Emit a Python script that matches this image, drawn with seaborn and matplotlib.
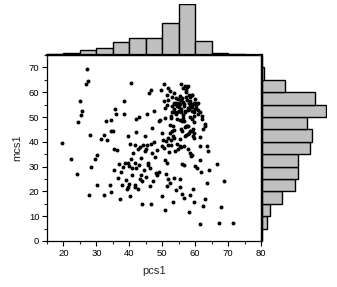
import matplotlib
matplotlib.use('Agg')
import matplotlib.pyplot as plt
import seaborn as sns
import pandas as pd
from matplotlib.ticker import MultipleLocator

# ---- data ----
pcs1 = [
    27.1, 27.4, 26.7, 24.9, 25.5, 25.4, 24.5, 19.6, 22.3, 24.1, 28.5, 28.2, 27.8, 30.2, 29.6, 30.2,
    31.3, 32.2, 33.3, 33.0, 34.5, 35.0, 35.5, 35.9, 34.4, 35.4, 36.3, 32.2, 34.0, 34.4, 37.3, 35.2,
    36.9, 36.6, 37.4, 38.1, 38.6, 38.3, 38.5, 39.5, 40.5, 40.1, 40.4, 39.9, 40.8, 39.5, 41.7, 42.0,
    40.7, 42.1, 42.9, 41.9, 41.8, 42.6, 44.3, 44.7, 45.3, 45.2, 44.7, 45.4, 45.9, 46.5, 47.5, 47.5,
    48.9, 47.0, 46.5, 45.7, 46.2, 45.8, 48.2, 47.2, 43.6, 45.0, 43.2, 38.9, 39.9, 39.5, 39.3, 41.6,
    41.8, 42.6, 40.2, 37.9, 44.0, 46.6, 49.9, 50.7, 51.5, 51.7, 51.5, 53.3, 53.5, 55.4, 55.5, 56.5,
    58.2, 58.4, 59.3, 59.5, 61.4, 62.4, 63.1, 63.5, 64.2, 66.5, 67.9, 68.7, 67.3, 71.4, 61.8, 60.5,
    59.8, 61.4, 59.1, 58.5, 63.9, 63.7, 61.5, 61.4, 59.6,
    59.6, 58.9, 58.0, 57.3, 56.1, 57.1, 57.9, 56.0, 56.6, 58.9, 59.6, 62.0, 63.1, 62.9, 62.3, 61.0,
    59.5, 59.9, 58.1, 58.5, 58.0, 59.5, 60.1, 60.8, 60.2, 58.9, 58.5, 57.3, 57.4, 57.9, 56.8, 55.7,
    56.3, 57.1, 50.4, 51.7, 49.7, 51.3, 50.6, 51.6, 51.3, 50.8, 52.4, 53.6, 53.1, 54.2, 54.8, 55.3,
    56.0, 55.6, 55.2, 54.3, 53.8, 53.1, 54.4, 55.1, 53.6, 52.9, 53.5, 54.4, 54.1, 56.6, 56.7, 55.8,
    56.8, 57.7, 58.4, 58.9, 50.8, 52.8, 54.5, 56.3, 52.5, 53.3, 52.9, 53.5, 52.3, 51.9, 53.3, 53.6,
    55.5, 54.5, 55.3, 55.8, 56.6, 54.8, 57.9, 56.1, 56.7, 58.7, 50.1, 51.0, 49.8, 51.6, 52.8, 52.6,
    53.5, 55.3, 56.3, 57.3, 58.1, 58.9, 57.5, 58.3, 59.2, 59.9, 60.4, 60.9, 61.4, 55.1, 55.8, 56.8,
    57.8, 58.9, 52.8, 56.3, 58.3, 59.6, 62.2, 49.2, 55.3, 57.5, 55.8, 56.8, 58.3, 59.4, 49.8, 56.8,
    57.8, 59.2,
    43.5, 41.0, 42.8, 44.5, 43.2, 44.0, 46.8, 48.5, 47.8, 49.0, 46.3, 48.5, 50.5, 52.0, 53.8, 51.0,
    52.5, 54.2, 50.8, 56.0,
]
mcs1 = [
    69.5, 64.7, 63.5, 56.3, 52.5, 50.7, 48.0, 39.5, 33.0, 27.1, 29.7, 42.7, 18.6, 22.7, 33.0, 34.6,
    41.0, 42.9, 40.6, 48.4, 44.2, 44.4, 53.3, 51.1, 48.7, 37.3, 36.5, 18.4, 22.5, 19.8, 16.8, 28.5,
    31.1, 25.5, 27.8, 29.9, 31.6, 56.3, 51.1, 42.5, 63.8, 39.2, 33.0, 30.4, 29.3, 31.6, 31.6, 29.6,
    26.7, 49.0, 50.2, 43.8, 38.9, 36.9, 38.8, 42.2, 38.8, 37.0, 36.2, 51.3, 59.6, 60.8, 52.4, 40.0,
    48.3, 45.7, 39.2, 31.5, 29.4, 30.5, 27.4, 24.3, 26.7, 25.9, 25.1, 24.4, 22.8, 21.8, 21.0, 22.6,
    21.7, 21.0, 18.3, 22.7, 15.1, 14.8, 18.3, 32.8, 31.4, 24.8, 22.2, 15.9, 25.4, 21.8, 25.2, 17.5,
    11.8, 18.6, 21.0, 15.7, 6.9, 14.0, 17.0, 23.2, 28.6, 31.1, 13.6, 24.3, 7.3, 7.2, 27.8, 29.3,
    30.1, 32.7, 34.6, 35.3, 36.4, 38.4, 38.3, 41.8, 41.7,
    43.6, 44.2, 43.6, 42.7, 44.2, 46.3, 46.5, 48.2, 48.2, 49.0, 47.9, 49.3, 47.1, 46.3, 45.2, 51.1,
    52.0, 53.2, 53.3, 55.2, 55.6, 55.6, 55.8, 55.6, 53.6, 58.7, 58.1, 60.8, 62.3, 62.4, 62.5, 63.2,
    61.5, 60.1, 63.2, 61.9, 61.0, 58.7, 56.6, 56.7, 54.7, 53.6, 60.5, 59.6, 58.2, 57.7, 57.1, 58.5,
    57.5, 56.7, 55.6, 55.6, 55.2, 54.4, 54.4, 53.9, 53.3, 52.2, 52.2, 52.2, 51.3, 55.4, 54.4, 53.3,
    52.6, 53.6, 54.0, 53.9, 49.8, 49.7, 49.0, 49.8, 46.8, 46.3, 44.5, 44.6, 43.6, 41.7, 42.5, 41.4,
    41.0, 39.0, 38.4, 38.1, 38.4, 37.0, 37.0, 30.9, 30.5, 34.3, 40.8, 40.3, 38.3, 38.9, 38.7, 40.7,
    55.8, 55.4, 56.0, 58.1, 58.7, 59.0, 56.7, 56.3, 55.4, 57.4, 54.7, 53.0, 52.0, 52.6, 52.2, 52.0,
    53.0, 52.6, 50.6, 50.9, 49.9, 50.6, 50.6, 48.6, 48.6, 46.5, 45.2, 45.9, 44.5, 45.2, 43.5, 42.4,
    43.1, 42.4,
    33.5, 35.5, 30.5, 28.5, 37.8, 24.0, 35.5, 36.8, 33.8, 28.0, 22.0, 26.5, 37.5, 35.8, 36.2, 27.0,
    23.5, 20.5, 12.5, 19.0,
]
x_ticks = [20, 30, 40, 50, 60, 70, 80]
y_ticks = [0, 10, 20, 30, 40, 50, 60, 70]
x_label = "pcs1"
y_label = "mcs1"

df = pd.DataFrame({"pcs1": pcs1, "mcs1": mcs1})

sns.set_style("ticks")
plt.rcParams["font.family"] = ["Liberation Sans", "DejaVu Sans"]

fig = plt.figure(figsize=(3.37, 2.87), dpi=100)
ax = fig.add_axes([0.1395, 0.1603, 0.635, 0.648])
axt = fig.add_axes([0.1395, 0.8084, 0.635, 0.178])
axr = fig.add_axes([0.7774, 0.1603, 0.193, 0.648])

# scatter
sns.scatterplot(data=df, x="pcs1", y="mcs1", ax=ax, color="black", s=8,
                linewidth=0, legend=False)
ax.set_xlim(15, 80)
ax.set_ylim(0, 75)
ax.set_xticks(x_ticks)
ax.set_yticks(y_ticks)
ax.xaxis.set_minor_locator(MultipleLocator(5))
ax.yaxis.set_minor_locator(MultipleLocator(5))
ax.tick_params(which="major", direction="out", length=3.5, width=0.8,
               labelsize=6.8, colors="black", pad=2)
ax.tick_params(which="minor", direction="out", length=2, width=0.8)
ax.tick_params(top=False, right=False, which="both")
for s in ax.spines.values():
    s.set_visible(True)
    s.set_color("black")
    s.set_linewidth(0.9)
ax.set_xlabel(x_label, fontsize=8, labelpad=6)
ax.set_ylabel(y_label, fontsize=8, labelpad=5)

# top histogram
sns.histplot(data=df, x="pcs1", ax=axt, binwidth=5, binrange=(15, 80),
             color="#c0c0c0", edgecolor="black", linewidth=1.0, alpha=1)
axt.set_xlim(15, 80)
axt.margins(y=0)
axt.set_ylim(bottom=0)
axt.set_xticks([15, 80])
axt.set_yticks([])
axt.tick_params(axis="x", direction="out", length=3, width=0.8, labelbottom=False)
axt.set_xlabel("")
axt.set_ylabel("")
for k in ["top", "left", "right"]:
    axt.spines[k].set_visible(False)
axt.spines["bottom"].set_linewidth(1.6)
axt.spines["bottom"].set_color("black")
axt.patch.set_alpha(0)

# right histogram
sns.histplot(data=df, y="mcs1", ax=axr, binwidth=5, binrange=(0, 75),
             color="#c0c0c0", edgecolor="black", linewidth=1.0, alpha=1)
axr.set_ylim(0, 75)
axr.margins(x=0.02)
axr.set_xlim(left=0)
axr.set_yticks([0, 75])
axr.set_xticks([])
axr.tick_params(axis="y", direction="out", length=3, width=0.8, labelleft=False)
axr.set_xlabel("")
axr.set_ylabel("")
for k in ["top", "right", "bottom"]:
    axr.spines[k].set_visible(False)
axr.spines["left"].set_linewidth(1.6)
axr.spines["left"].set_color("black")
axr.patch.set_alpha(0)

fig.savefig("out.png", dpi=100)
